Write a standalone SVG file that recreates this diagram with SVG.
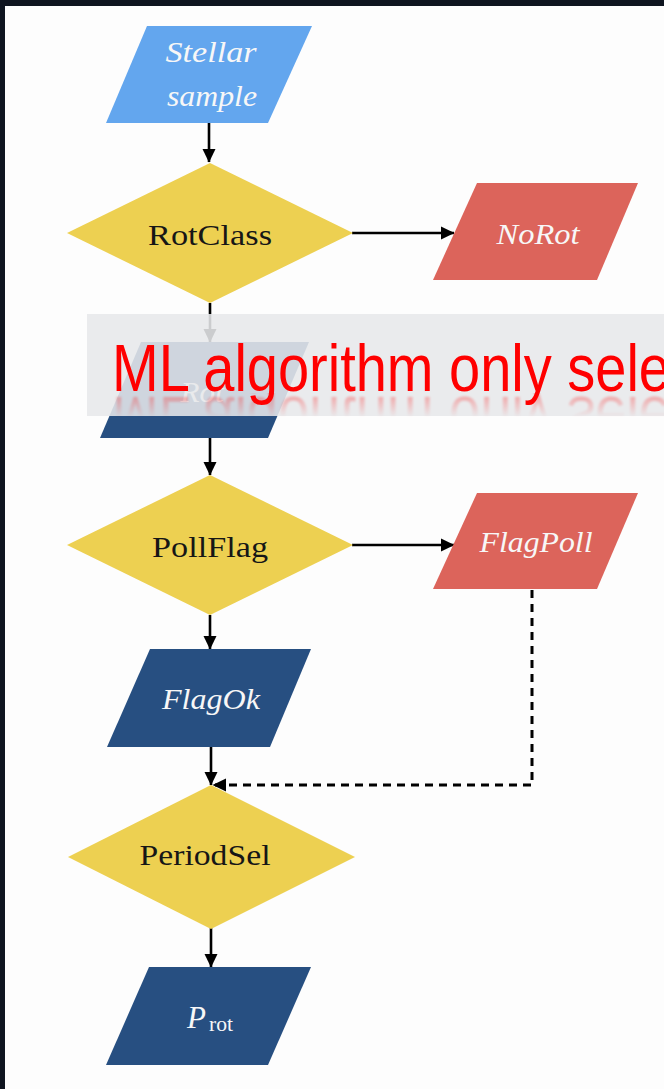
<svg xmlns="http://www.w3.org/2000/svg" width="664" height="1089" viewBox="0 0 664 1089">
  <style>
    .io-light { fill: #63a6ee; }
    .io-dark { fill: #274f81; }
    .io-red { fill: #dc645b; }
    .decision { fill: #edd051; }
    .lbl-dec { font-family: "Liberation Serif", serif; font-size: 29px; fill: #161616; text-anchor: middle; }
    .lbl-io { font-family: "Liberation Serif", serif; font-style: italic; font-size: 29px; fill: #f7f7f7; text-anchor: middle; }
    .edge { stroke: #000; stroke-width: 2.6; fill: none; }
    .edge-dash { stroke: #000; stroke-width: 3; fill: none; stroke-dasharray: 8 6; }
    .banner-text { font-family: "Liberation Sans", Arial, sans-serif; font-size: 66px; fill: #ff0000; }
  </style>
  <defs>
    <marker id="arrow" markerUnits="userSpaceOnUse" markerWidth="14" markerHeight="14" viewBox="0 0 14 14" refX="13" refY="7" orient="auto">
      <path d="M0,0.5 L13.5,7 L0,13.5 Z" fill="#000"/>
    </marker>
    <linearGradient id="fadeGrad" gradientUnits="userSpaceOnUse" x1="0" y1="393" x2="0" y2="417">
      <stop offset="0" stop-color="#fff" stop-opacity="0.32"/>
      <stop offset="1" stop-color="#fff" stop-opacity="0"/>
    </linearGradient>
    <mask id="fade" maskUnits="userSpaceOnUse" x="87" y="393" width="577" height="26">
      <rect x="87" y="393" width="577" height="26" fill="url(#fadeGrad)"/>
    </mask>
    <filter id="soft" x="-5%" y="-20%" width="110%" height="140%">
      <feGaussianBlur stdDeviation="0.8"/>
    </filter>
  </defs>

  <!-- frame and page -->
  <rect x="0" y="0" width="664" height="1089" fill="#0f1520"/>
  <rect x="5" y="6" width="659" height="1083" fill="#fdfdfd"/>

  <!-- connectors -->
  <g id="connectors">
    <line class="edge" x1="209" y1="123" x2="209" y2="162" marker-end="url(#arrow)"/>
    <line class="edge" x1="352" y1="233" x2="454" y2="233" marker-end="url(#arrow)"/>
    <line class="edge" x1="210" y1="303" x2="210" y2="342" marker-end="url(#arrow)"/>
    <line class="edge" x1="210" y1="438" x2="210" y2="475" marker-end="url(#arrow)"/>
    <line class="edge" x1="352" y1="545" x2="454" y2="545" marker-end="url(#arrow)"/>
    <line class="edge" x1="210" y1="615" x2="210" y2="649" marker-end="url(#arrow)"/>
    <line class="edge" x1="211" y1="747" x2="211" y2="785" marker-end="url(#arrow)"/>
    <path class="edge-dash" d="M532,590 L532,785 L213,785" marker-end="url(#arrow)"/>
    <line class="edge" x1="211" y1="928" x2="211" y2="967" marker-end="url(#arrow)"/>
  </g>

  <!-- nodes -->
  <g id="stellar-sample">
    <polygon class="io-light" points="147,26 312,26 268,123 106,123"/>
    <text class="lbl-io" x="211" y="62" font-size="30" textLength="91" lengthAdjust="spacingAndGlyphs">Stellar</text>
    <text class="lbl-io" x="212" y="106" font-size="30" textLength="90" lengthAdjust="spacingAndGlyphs">sample</text>
  </g>

  <g id="rotclass">
    <polygon class="decision" points="210,163 353,233 210,303 67,233"/>
    <text class="lbl-dec" x="210" y="245" textLength="124" lengthAdjust="spacingAndGlyphs">RotClass</text>
  </g>

  <g id="norot">
    <polygon class="io-red" points="477,183 638,183 597,280 433,280"/>
    <text class="lbl-io" x="538" y="244" textLength="83" lengthAdjust="spacingAndGlyphs">NoRot</text>
  </g>

  <g id="rot">
    <polygon class="io-dark" points="141,342 309,342 268,438 100,438"/>
    <text class="lbl-io" x="202" y="402" textLength="43" lengthAdjust="spacingAndGlyphs">Rot</text>
  </g>

  <g id="pollflag">
    <polygon class="decision" points="210,475 353,545 210,615 67,545"/>
    <text class="lbl-dec" x="210" y="557" textLength="116" lengthAdjust="spacingAndGlyphs">PollFlag</text>
  </g>

  <g id="flagpoll">
    <polygon class="io-red" points="477,493 638,493 597,589 433,589"/>
    <text class="lbl-io" x="536" y="552" textLength="113" lengthAdjust="spacingAndGlyphs">FlagPoll</text>
  </g>

  <g id="flagok">
    <polygon class="io-dark" points="150,649 311,649 270,747 107,747"/>
    <text class="lbl-io" x="211" y="709" textLength="98" lengthAdjust="spacingAndGlyphs">FlagOk</text>
  </g>

  <g id="periodsel">
    <polygon class="decision" points="211,785 355,857 211,929 68,857"/>
    <text class="lbl-dec" x="205" y="865" textLength="131" lengthAdjust="spacingAndGlyphs">PeriodSel</text>
  </g>

  <g id="prot">
    <polygon class="io-dark" points="149,967 311,967 268,1065 106,1065"/>
    <text font-family="'Liberation Serif', serif" font-style="italic" font-size="31" fill="#f7f7f7" x="187" y="1028">P</text>
    <text font-family="'Liberation Serif', serif" font-size="22" fill="#f7f7f7" x="209" y="1031" textLength="24" lengthAdjust="spacingAndGlyphs">rot</text>
  </g>

  <!-- translucent banner across the flow -->
  <g id="banner">
    <rect x="87" y="314" width="577" height="102" fill="#e7e8ea" fill-opacity="0.88"/>
    <text class="banner-text" x="112" y="391" textLength="558" lengthAdjust="spacingAndGlyphs">ML algorithm only sele</text>
    <g mask="url(#fade)">
      <text class="banner-text" filter="url(#soft)" transform="translate(0,788) scale(1,-1)" x="112" y="391" textLength="558" lengthAdjust="spacingAndGlyphs">ML algorithm only sele</text>
    </g>
  </g>
</svg>
